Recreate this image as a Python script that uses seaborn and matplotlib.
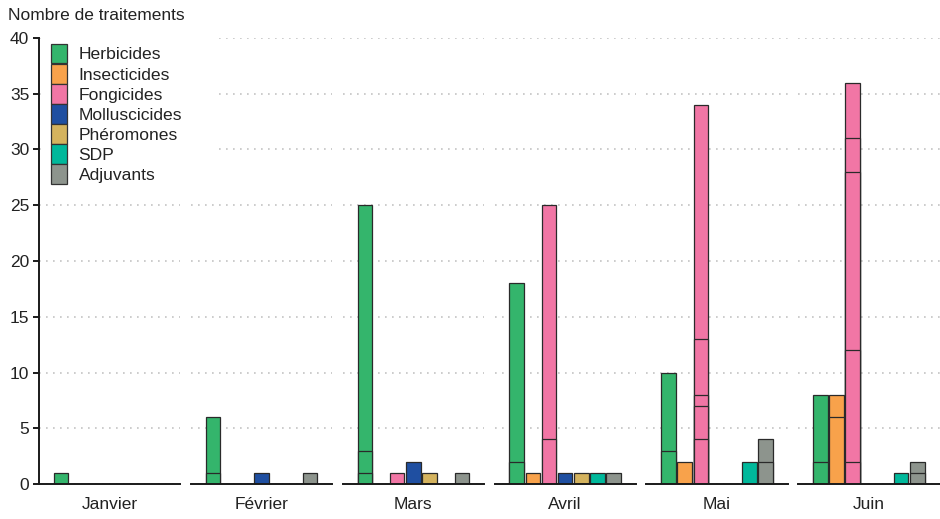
import numpy as np
import pandas as pd
import matplotlib
matplotlib.use("Agg")
import matplotlib.pyplot as plt
from matplotlib.patches import Patch
import seaborn as sns

months = ["Janvier", "Février", "Mars", "Avril", "Mai", "Juin"]
categories = ["Herbicides", "Insecticides", "Fongicides", "Molluscicides",
              "Phéromones", "SDP", "Adjuvants"]
colors = ["#34b56c", "#f8a24b", "#f176a5", "#1f4fa1", "#d4b35e", "#00b89b", "#8d948d"]

# stacked pieces of each bar, bottom to top, one list per month
herbicides = [[1], [1, 5], [1, 2, 22], [2, 16], [3, 7], [2, 6]]
insecticides = [[], [], [], [1], [2], [6, 2]]
fongicides = [[], [], [1], [4, 21], [4, 3, 1, 5, 21], [2, 10, 16, 3, 5]]
molluscicides = [[], [1], [2], [1], [], []]
pheromones = [[], [], [1], [1], [], []]
sdp = [[], [], [], [1], [2], [1]]
adjuvants = [[], [1], [1], [1], [2, 2], [1, 1]]

yticks = [0, 5, 10, 15, 20, 25, 30, 35, 40]

series = dict(zip(categories, [herbicides, insecticides, fongicides, molluscicides,
                               pheromones, sdp, adjuvants]))
rows = []
for cat, per_month in series.items():
    for m, pieces in zip(months, per_month):
        tops = np.cumsum(pieces)
        for lvl, top in enumerate(tops, start=1):
            rows.append({"mois": m, "categorie": cat, "niveau": lvl, "total": top})
df = pd.DataFrame(rows)
palette = dict(zip(categories, colors))

sns.set_theme(style="white")
plt.rcParams["font.family"] = ["Liberation Sans", "DejaVu Sans"]
text_color = "#222222"

fig, axes = plt.subplots(1, 6, figsize=(9.4, 5.19), dpi=100, sharey=True)
fig.subplots_adjust(left=0.0415, right=0.9995, bottom=0.0674, top=0.9268, wspace=0.074)

for i, (ax, m) in enumerate(zip(axes, months)):
    d = df[df["mois"] == m]
    # draw the tallest cumulative level first so lower ones leave the piece lines
    for lvl in sorted(d["niveau"].unique(), reverse=True):
        sub = d[d["niveau"] == lvl]
        sns.barplot(data=sub, x="categorie", y="total", hue="categorie",
                    order=categories, hue_order=categories, palette=palette,
                    saturation=1, width=0.9, errorbar=None, legend=False,
                    edgecolor="#2a2a2a", linewidth=0.9, ax=ax)
    ax.set_xlim(-1.37, 6 + 1.37)
    ax.set_ylim(0, 40)
    ax.set_yticks(yticks)
    ax.set_xticks([])
    ax.set_ylabel("")
    ax.set_xlabel(m, fontsize=12.5, color=text_color, labelpad=9)
    ax.set_axisbelow(True)
    ax.yaxis.grid(True, linestyle=(0, (1, 3.2)), linewidth=1.2, color="#c4c4c4")
    for s in ["top", "right"]:
        ax.spines[s].set_visible(False)
    ax.spines["bottom"].set_color("#1a1a1a")
    ax.spines["bottom"].set_linewidth(1.4)
    if i == 0:
        ax.spines["left"].set_color("#1a1a1a")
        ax.spines["left"].set_linewidth(1.4)
        ax.tick_params(axis="y", left=True, length=4, width=1.4, color="#1a1a1a",
                       labelsize=12.5, labelcolor=text_color, pad=3)
    else:
        ax.spines["left"].set_visible(False)
        ax.tick_params(axis="y", left=False, labelleft=False)

fig.text(8 / 940, 1 - 15 / 519, "Nombre de traitements", fontsize=12.5,
         color=text_color, ha="left", va="center")

handles = [Patch(facecolor=c, edgecolor="#333333", linewidth=0.9) for c in colors]
leg = fig.legend(handles, categories, loc="upper left", mode="expand",
                 bbox_to_anchor=(46 / 940, 1 - 39 / 519, (218 - 46) / 940, 0.001),
                 fontsize=12.6, frameon=True, facecolor="white", edgecolor="none",
                 framealpha=1, fancybox=False, borderpad=0.3, borderaxespad=0,
                 handlelength=0.88, handleheight=1.36, labelspacing=0.02,
                 handletextpad=0.68)
for t in leg.get_texts():
    t.set_color(text_color)

fig.savefig("out.png", dpi=100)
